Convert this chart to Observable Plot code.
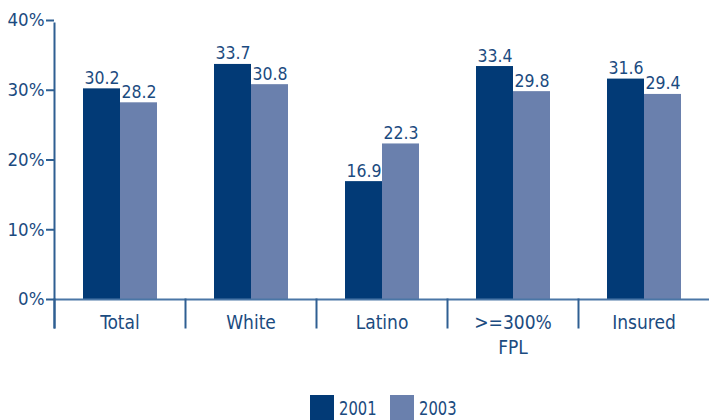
<!DOCTYPE html>
<html>
<head>
<meta charset="utf-8">
<script src="https://cdn.jsdelivr.net/npm/d3@7"></script>
<script src="https://cdn.jsdelivr.net/npm/@observablehq/plot@0.6"></script>
<style>
  html, body { margin: 0; padding: 0; background: #fff; }
  body { width: 710px; height: 420px; overflow: hidden; position: relative; font-family: 'DejaVu Sans Condensed', 'Liberation Sans Narrow', sans-serif; }
  #legend { position: absolute; left: 0; top: 395px; width: 710px; height: 25px; }
  .sw { position: absolute; top: 0; width: 24px; height: 25px; }
  .lab { position: absolute; top: 3px; font-size: 20px; line-height: 20px; color: #1b4b80; transform: scaleX(0.82); transform-origin: left center; white-space: nowrap; }
</style>
</head>
<body>
<div id="chart"></div>
<div id="legend"></div>
<script>
const categories = ["Total", "White", "Latino", ">=300%\nFPL", "Insured"];
const years = ["2001", "2003"];
const values2001 = [30.2, 33.7, 16.9, 33.4, 31.6];
const values2003 = [28.2, 30.8, 22.3, 29.8, 29.4];
const yTicks = [0, 10, 20, 30, 40];
const colors = ["#023a76", "#6a80ad"];

const textColor = "#1b4b80";
const lineColor = "#2f5f92";

const data = [];
categories.forEach((c, i) => {
  data.push({category: c, year: years[0], value: values2001[i]});
  data.push({category: c, year: years[1], value: values2003[i]});
});

const W = 710, H = 360, mTop = 20, mBottom = 61, mLeft = 53, mRight = 0;
const plotH = H - mTop - mBottom;

const chart = Plot.plot({
  width: W,
  height: H,
  marginTop: mTop,
  marginBottom: mBottom,
  marginLeft: mLeft,
  marginRight: mRight,
  style: {fontFamily: "'DejaVu Sans Condensed', 'Liberation Sans Narrow', sans-serif", background: "#fff"},
  fx: {domain: categories, padding: 0, label: null},
  x: {domain: years, paddingInner: 0, paddingOuter: 0.757, axis: null},
  y: {domain: [0, 40], axis: null},
  color: {domain: years, range: colors},
  marks: [
    Plot.barY(data, {fx: "category", x: "year", y: "value", fill: "year"}),
    Plot.text(data, {fx: "category", x: "year", y: "value", text: d => d.value.toFixed(1),
      dy: -5, lineAnchor: "bottom", fontSize: 17.5, fill: textColor}),
    Plot.ruleY([0], {stroke: "#4a76a6", strokeWidth: 2}),
    Plot.frame({anchor: "left", stroke: lineColor, strokeWidth: 2, insetTop: plotH, insetBottom: -28}),
    Plot.frame({anchor: "left", facet: "super", stroke: lineColor, strokeWidth: 2, insetTop: 3, insetBottom: -28}),
    Plot.axisY({ticks: yTicks, tickFormat: d => d + "%", tickSize: 8, tickPadding: 2,
      fontSize: 18.5, color: textColor, stroke: lineColor, strokeWidth: 2, label: null}),
    Plot.axisFx({anchor: "bottom", tickSize: 0, tickPadding: 11, fontSize: 19,
      lineHeight: 1.35, color: textColor, label: null})
  ]
});
document.getElementById("chart").appendChild(chart);

const legend = document.getElementById("legend");
const swatchLeft = [310, 390];
years.forEach((y, i) => {
  const sw = document.createElement("div");
  sw.className = "sw";
  sw.style.left = swatchLeft[i] + "px";
  sw.style.background = colors[i];
  legend.appendChild(sw);
  const lab = document.createElement("div");
  lab.className = "lab";
  lab.style.left = (swatchLeft[i] + 29) + "px";
  lab.textContent = y;
  legend.appendChild(lab);
});
</script>
</body>
</html>
